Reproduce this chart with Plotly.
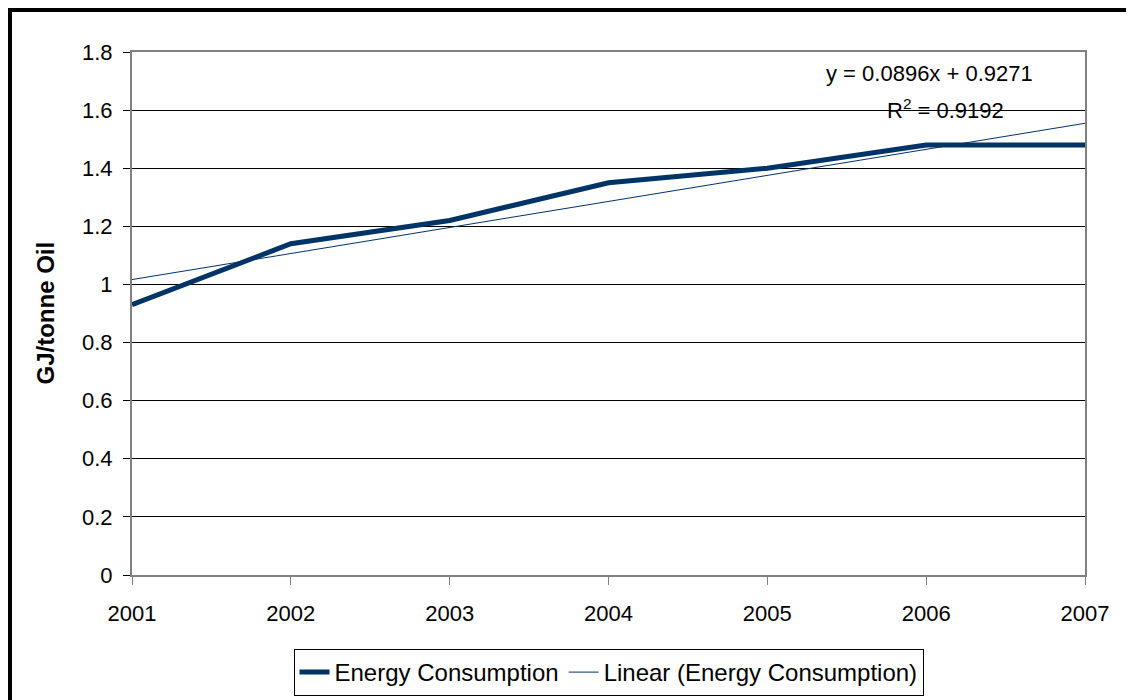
import numpy as np
import plotly.graph_objects as go

years = [2001, 2002, 2003, 2004, 2005, 2006, 2007]
energy = [0.93, 1.14, 1.22, 1.35, 1.40, 1.48, 1.48]
y_ticks = [0, 0.2, 0.4, 0.6, 0.8, 1.0, 1.2, 1.4, 1.6, 1.8]
y_tick_text = ["0", "0.2", "0.4", "0.6", "0.8", "1", "1.2", "1.4", "1.6", "1.8"]
eq_text = "y = 0.0896x + 0.9271"
r2_text = "R<sup>2</sup> = 0.9192"
y_title = "GJ/tonne Oil"

# linear trend fitted on the category index (1..7), as Excel does
idx = np.arange(1, len(years) + 1)
slope, intercept = np.polyfit(idx, energy, 1)
trend = slope * idx + intercept

# figure is placed with the page's 8px body margin
W, H = 1126, 692
L, R, T, B = 124, 1077, 44, 567
FONT = "Liberation Sans, Arial, sans-serif"
NAVY = "#003366"

fig = go.Figure()
fig.add_trace(go.Scatter(x=years, y=energy, mode="lines", name="Energy Consumption",
                         line=dict(color=NAVY, width=5)))
fig.add_trace(go.Scatter(x=years, y=trend, mode="lines", name="Linear (Energy Consumption)",
                         line=dict(color=NAVY, width=1)))

def px_x(p):
    return (p - L) / (R - L)

def px_y(p):
    return (B - p) / (B - T)

fig.update_layout(
    width=W, height=H,
    margin=dict(l=L, r=W - R, t=T, b=H - B, pad=0, autoexpand=False),
    paper_bgcolor="white", plot_bgcolor="white",
    font=dict(family=FONT, size=22, color="black"),
    showlegend=True,
    legend=dict(orientation="h", x=0.5, xanchor="center", y=px_y(641), yanchor="top",
                bordercolor="#000000", borderwidth=1, font=dict(size=24),
                tracegroupgap=0),
    xaxis=dict(range=[2001, 2007], tickvals=years, ticktext=[str(y) for y in years],
               showgrid=False, zeroline=False, showline=True, linecolor="#808080",
               linewidth=2, mirror=True, ticks="outside", ticklen=8, tickcolor="#808080",
               tickwidth=1, tickfont=dict(size=22), ticklabelstandoff=10),
    yaxis=dict(range=[0, 1.8], tickvals=y_ticks, ticktext=y_tick_text,
               showgrid=True, gridcolor="black", gridwidth=1, zeroline=False,
               showline=True, linecolor="#808080", linewidth=2, mirror=True,
               ticks="outside", ticklen=7, tickcolor="black", tickwidth=1,
               tickfont=dict(size=22), ticklabelstandoff=6),
    annotations=[
        dict(text=eq_text, xref="paper", yref="paper",
             x=px_x(921.5), y=px_y(66), xanchor="center", yanchor="middle",
             showarrow=False, font=dict(size=22)),
        dict(text=r2_text, xref="paper", yref="paper",
             x=px_x(937), y=px_y(101), xanchor="center", yanchor="middle",
             showarrow=False, font=dict(size=22)),
        dict(text="<b>" + y_title + "</b>", xref="paper", yref="paper",
             x=px_x(37), y=0.5, xanchor="center", yanchor="middle", textangle=-90,
             showarrow=False, font=dict(size=24, family="Liberation Sans")),
    ],
    shapes=[
        dict(type="rect", xref="paper", yref="paper",
             x0=px_x(0), x1=px_x(1200), y0=px_y(760), y1=px_y(0),
             line=dict(color="black", width=8), fillcolor="rgba(0,0,0,0)", layer="above"),
    ],
)

fig.write_html("out.html")
